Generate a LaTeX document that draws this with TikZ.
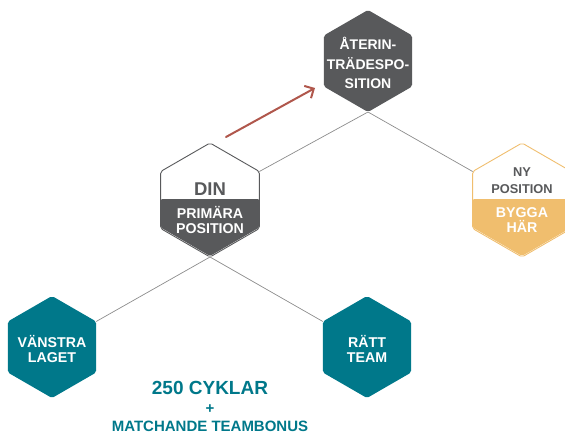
\documentclass[tikz,border=0pt]{standalone}
\usepackage{fontspec}
\setmainfont{Liberation Sans}
\usetikzlibrary{arrows.meta}
\definecolor{dgray}{HTML}{58595B}
\definecolor{teal}{HTML}{00788A}
\definecolor{gold}{HTML}{F0BE6E}
\definecolor{arrowred}{HTML}{B0574C}
\definecolor{linegray}{HTML}{8C8C8C}
\def\hexpts#1#2#3{({#1},{#2-#3}) -- ({#1+0.866*#3},{#2-0.5*#3}) -- ({#1+0.866*#3},{#2+0.5*#3}) -- ({#1},{#2+#3}) -- ({#1-0.866*#3},{#2+0.5*#3}) -- ({#1-0.866*#3},{#2-0.5*#3}) -- cycle}
\def\lowhalf#1#2#3{({#1-0.866*#3},{#2}) -- ({#1+0.866*#3},{#2}) -- ({#1+0.866*#3},{#2+0.5*#3}) -- ({#1},{#2+#3}) -- ({#1-0.866*#3},{#2+0.5*#3}) -- cycle}
\begin{document}
\begin{tikzpicture}[x=1pt,y=-1pt,
  hexshape/.style={rounded corners=2pt},
  lbl/.style={font=\bfseries, align=center, inner sep=0pt},
  conn/.style={draw=linegray, line width=0.7pt}]
\path[use as bounding box] (0,0) rectangle (565,433);
\clip (0,0) rectangle (565,433);
% vertex coordinates
\coordinate (topB) at (368,112);
\coordinate (dinUR) at ({210+0.866*57},{200-28.5});
\coordinate (dinB) at (210,257);
\coordinate (nyUL) at ({522-0.866*57},{200-28.5});
\coordinate (vUR) at ({52+0.866*51},{347-25.5});
\coordinate (rUL) at ({367-0.866*51},{347-25.5});
\coordinate (arrS) at (226,137);
\coordinate (arrE) at (315,88);
% connectors
\draw[conn] (topB) -- (dinUR);
\draw[conn] (topB) -- (nyUL);
\draw[conn] (dinB) -- (vUR);
\draw[conn] (dinB) -- (rUL);
% top hexagon
\fill[dgray, hexshape] \hexpts{368}{61}{51};
\node[lbl, white, font=\bfseries\fontsize{14}{19.5}\selectfont] (top) at (368,63) {ÅTERIN-\\TRÄDESPO-\\SITION};
% DIN hexagon
\fill[white, hexshape] \hexpts{210}{200}{57};
\fill[dgray, hexshape] \lowhalf{210}{199}{57};
\draw[dgray, line width=0.9pt, hexshape] \hexpts{210}{200}{57};
\node[lbl, dgray, font=\bfseries\fontsize{18.5}{20}\selectfont] (din) at (210,189) {DIN};
\node[lbl, white, font=\bfseries\fontsize{14.2}{14.5}\selectfont] (prim) at (210,220) {PRIMÄRA\\POSITION};
% NY hexagon
\fill[white, hexshape] \hexpts{522}{200}{57};
\fill[gold, hexshape] \lowhalf{522}{199}{57};
\draw[gold, line width=0.9pt, hexshape] \hexpts{522}{200}{57};
\node[lbl, dgray, font=\bfseries\fontsize{12.8}{17}\selectfont] (ny) at (522,181) {NY\\POSITION};
\node[lbl, white, font=\bfseries\fontsize{14.2}{14.5}\selectfont] (bygga) at (522,220) {BYGGA\\HÄR};
% bottom hexagons
\fill[teal, hexshape] \hexpts{52}{347}{51};
\node[lbl, white, font=\bfseries\fontsize{14.2}{14.5}\selectfont] (vanstra) at (52,349) {VÄNSTRA\\LAGET};
\fill[teal, hexshape] \hexpts{367}{347}{51};
\node[lbl, white, font=\bfseries\fontsize{14.2}{14.5}\selectfont] (ratt) at (367,349) {RÄTT\\TEAM};
% arrow
\draw[arrowred, line width=2pt, line cap=round, -{Straight Barb[length=7pt,width=14pt]}] (arrS) -- (arrE);
% bottom text
\node[lbl, teal, font=\bfseries\fontsize{19}{20}\selectfont] (cyk) at (210,388) {250 CYKLAR};
\node[lbl, teal, font=\bfseries\fontsize{15}{16}\selectfont] (plus) at (210,409) {+};
\node[lbl, teal, font=\bfseries\fontsize{15}{16}\selectfont] (bonus) at (210,426) {MATCHANDE TEAMBONUS};
\end{tikzpicture}
\end{document}
